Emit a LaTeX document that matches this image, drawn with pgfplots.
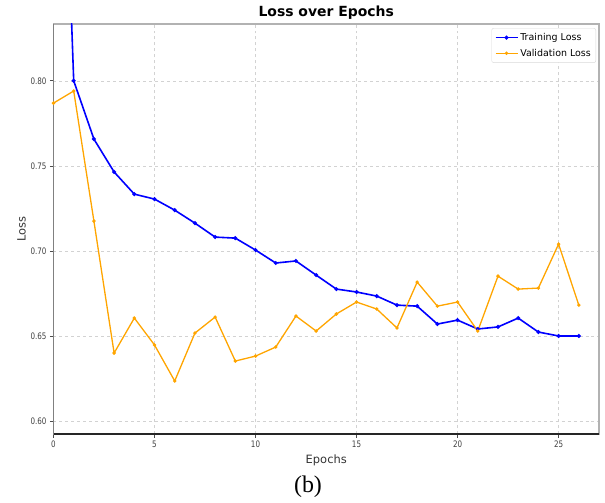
\documentclass[border=0pt]{standalone}
\usepackage{pgfplots}
\pgfplotsset{compat=1.18}
\usepackage{fontspec}
\setmainfont{DejaVu Sans}
\newfontfamily\tickfont{DejaVu Sans}[FakeStretch=0.8]
\newfontfamily\capfont{Liberation Serif}

\definecolor{trainblue}{RGB}{0,0,255}
\definecolor{valorange}{RGB}{255,165,0}

\pgfplotstableread{
epoch train val
0  1.1300 0.7869
1  0.8000 0.7940
2  0.7658 0.7177
3  0.7465 0.6403
4  0.7335 0.6608
5  0.7306 0.6450
6  0.7241 0.6239
7  0.7165 0.6520
8  0.7083 0.6614
9  0.7077 0.6356
10 0.7007 0.6385
11 0.6931 0.6438
12 0.6943 0.6620
13 0.6860 0.6532
14 0.6778 0.6632
15 0.6761 0.6702
16 0.6737 0.6661
17 0.6684 0.6550
18 0.6678 0.6819
19 0.6573 0.6678
20 0.6596 0.6702
21 0.6544 0.6532
22 0.6556 0.6854
23 0.6608 0.6778
24 0.6526 0.6784
25 0.6503 0.7042
26 0.6503 0.6684
}\losstable

\begin{document}
\begin{tikzpicture}
\begin{axis}[
  name=ax,
  scale only axis, width=545.5bp, height=410bp,
  xmin=0, xmax=27, ymin=0.5928, ymax=0.8333,
  xtick={0,5,10,15,20,25},
  ytick={0.60,0.65,0.70,0.75,0.80},
  yticklabel style={/pgf/number format/.cd, fixed, fixed zerofill, precision=2},
  /pgf/number format/assume math mode=true,
  ticklabel style={font=\tickfont\fontsize{9}{10}\selectfont, text=black!75},
  xtick pos=bottom, ytick pos=left,
  tick align=outside, major tick length=3.5bp,
  tick style={black!70, line width=0.6bp},
  grid=major,
  major grid style={dashed, gray!35, line width=0.5bp},
  axis line style={gray!60, line width=1.3bp},
  title={\bfseries Loss over Epochs},
  title style={font=\fontsize{14}{16}\selectfont, at={(axis description cs:0.5,1)}, anchor=center, yshift=5bp},
  xlabel={Epochs},
  xlabel style={font=\fontsize{11.5}{13}\selectfont, at={(axis description cs:0.5,0)}, anchor=center, yshift=-26bp, text=black!80},
  ylabel={Loss},
  ylabel style={font=\fontsize{11.5}{13}\selectfont, at={(axis description cs:0,0.5)}, anchor=center, yshift=32bp, text=black!80},
  legend style={at={(rel axis cs:0.9945,0.990)}, anchor=north east, draw=gray!30, rounded corners=2bp,
    font=\fontsize{9.5}{11}\selectfont, fill=white, inner sep=3bp, row sep=3bp},
  legend cell align=left,
  legend image code/.code={\draw[mark repeat=2, mark phase=2] plot coordinates {(0bp,0bp) (11bp,0bp) (22bp,0bp)};},
]
\addplot[trainblue, line width=1.6bp, mark=*, mark size=1.1bp] table[x=epoch, y=train] {\losstable};
\addlegendentry{Training Loss}
\addplot[valorange, line width=1.3bp, mark=*, mark size=1bp] table[x=epoch, y=val] {\losstable};
\addlegendentry{Validation Loss}
\draw[black!85, line width=1.1bp] (rel axis cs:0,1) -- (rel axis cs:0,0) -- (rel axis cs:1,0);
\end{axis}
\node[font=\capfont\fontsize{24}{26}\selectfont] at ([shift={(254.5bp,-53bp)}]ax.south west) {(b)};
\path ([shift={(-53.5bp,-69bp)}]ax.south west) rectangle ([shift={(551.5bp,434bp)}]ax.south west);
\end{tikzpicture}
\end{document}
